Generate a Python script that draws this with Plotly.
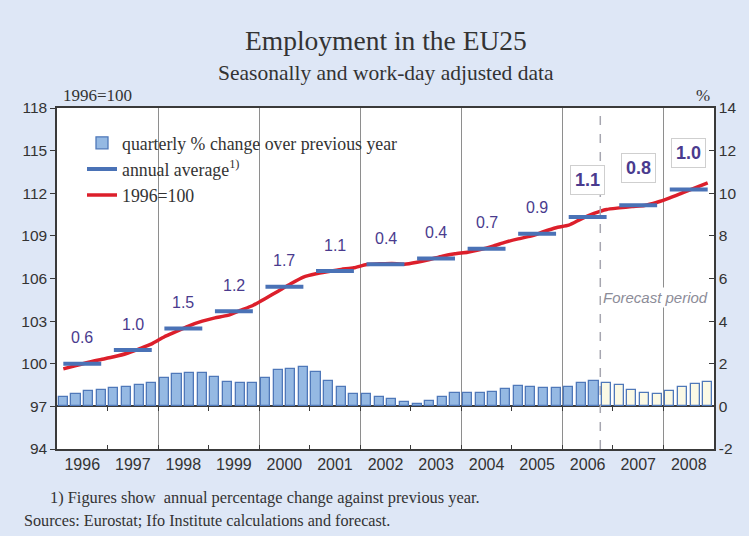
import plotly.graph_objects as go

# ---- data -------------------------------------------------------------
years = list(range(1996, 2009))
year_labels = [str(y) for y in years]

# quarterly % change over previous year (right axis)
quarterly_change = [
    0.46, 0.58, 0.70, 0.77,   # 1996
    0.87, 0.90, 0.98, 1.10,   # 1997
    1.33, 1.50, 1.58, 1.58,   # 1998
    1.39, 1.14, 1.11, 1.11,   # 1999
    1.33, 1.72, 1.75, 1.86,   # 2000
    1.61, 1.20, 0.92, 0.58,   # 2001
    0.60, 0.44, 0.35, 0.21,   # 2002
    0.11, 0.25, 0.43, 0.63,   # 2003
    0.63, 0.63, 0.68, 0.81,   # 2004
    0.96, 0.92, 0.88, 0.88,   # 2005
    0.92, 1.12, 1.18, 1.12,   # 2006
    1.00, 0.79, 0.63, 0.58,   # 2007
    0.73, 0.90, 1.06, 1.15,   # 2008
]

# employment index, 1996=100 (left axis)
employment_index = [
    99.64, 99.88, 100.11, 100.30,
    100.49, 100.72, 101.05, 101.40,
    101.90, 102.29, 102.69, 103.00,
    103.23, 103.40, 103.75, 104.10,
    104.59, 105.11, 105.63, 106.10,
    106.33, 106.49, 106.64, 106.75,
    106.99, 107.03, 107.06, 107.01,
    107.15, 107.34, 107.57, 107.74,
    107.85, 108.04, 108.28, 108.56,
    108.79, 108.98, 109.29, 109.57,
    109.75, 110.20, 110.58, 110.86,
    110.97, 111.07, 111.14, 111.37,
    111.68, 112.03, 112.38, 112.73,
]

# annual average of the index and its annual % change
annual_average = [100.0, 100.96, 102.48, 103.70, 105.42, 106.52, 107.0,
                  107.4, 108.1, 109.15, 110.32, 111.16, 112.26]
annual_change = ["0.6", "1.0", "1.5", "1.2", "1.7", "1.1", "0.4",
                 "0.4", "0.7", "0.9", "1.1", "0.8", "1.0"]

left_ticks = list(range(94, 119, 3))
right_ticks = list(range(-2, 15, 2))
right_tick_text = [str(v) for v in right_ticks]   # plain hyphen for "-2"

FORECAST_START = 2006.75   # forecast begins with 2006 Q4
FIRST_FORECAST_YEAR = 2006

# ---- derived positions --------------------------------------------------
quarter_x = [y + 0.125 + 0.25 * q for y in years for q in range(4)]
actual_idx = [i for i, x in enumerate(quarter_x) if x < FORECAST_START]
fcst_idx = [i for i, x in enumerate(quarter_x) if x > FORECAST_START]

avg_x, avg_y = [], []
for y, v in zip(years, annual_average):
    avg_x += [y + 0.125, y + 0.875, None]
    avg_y += [v, v, None]

boundaries = list(range(years[0] + 1, years[-1] + 1))
even_bounds = [b for b in boundaries if b % 2 == 0]
odd_bounds = [b for b in boundaries if b % 2 == 1]
centers = [y + 0.5 for y in years]

# ---- style ------------------------------------------------------------
BG = "#dee7f6"
AXIS = "#3a3a3a"
GRID = "#8e8e8e"
BAR_FILL = "#95b9e3"
BAR_EDGE = "#4f78b9"
FCST_FILL = "#fbf9e5"
AVG_BLUE = "#4a72b6"
RED = "#dc1f2b"
LABEL = "#4a3b8e"
TEXT = "#333333"
SERIF = "Liberation Serif"
SANS = "Liberation Sans"

XR = [years[0], years[-1] + 1]
Y_LEFT = [94, 118]
Y_RIGHT = [-2, 14]

fig = go.Figure()

fig.add_trace(go.Bar(
    x=[quarter_x[i] for i in actual_idx],
    y=[quarterly_change[i] for i in actual_idx],
    width=0.18, xaxis="x3", yaxis="y2",
    marker=dict(color=BAR_FILL, line=dict(color=BAR_EDGE, width=1.3)),
    name="quarterly % change over previous year",
    legendgroup="a",
))
fig.add_trace(go.Bar(
    x=[quarter_x[i] for i in fcst_idx],
    y=[quarterly_change[i] for i in fcst_idx],
    width=0.18, xaxis="x3", yaxis="y2",
    marker=dict(color=FCST_FILL, line=dict(color=BAR_EDGE, width=1.3)),
    showlegend=False, legendgroup="a",
))
fig.add_trace(go.Scatter(
    x=avg_x, y=avg_y, mode="lines", xaxis="x2", yaxis="y",
    line=dict(color=AVG_BLUE, width=4),
    name="annual average<sup>1)</sup>", legendgroup="b",
))
fig.add_trace(go.Scatter(
    x=quarter_x, y=employment_index, mode="lines", xaxis="x", yaxis="y",
    line=dict(color=RED, width=3.5, shape="spline", smoothing=0.5),
    name="1996=100", legendgroup="c",
))

# annual change labels above each annual average
annotations = []
for y, v, t in zip(years, annual_average, annual_change):
    if y < FIRST_FORECAST_YEAR:
        annotations.append(dict(
            x=y + 0.5, y=v, xref="x", yref="y", text=t, showarrow=False,
            yshift=26, font=dict(family=SANS, size=16, color=LABEL)))
    else:
        annotations.append(dict(
            x=y + 0.5, y=v, xref="x", yref="y", text="<b>%s</b>" % t,
            showarrow=False, yshift=37, bgcolor="white",
            bordercolor="#cfcfcf", borderwidth=1, borderpad=4,
            font=dict(family=SANS, size=18, color=LABEL)))

annotations.append(dict(
    x=FORECAST_START, y=5.1, xref="x", yref="y2", xanchor="left", xshift=1,
    text="<i>Forecast period</i>", showarrow=False, bgcolor="white",
    font=dict(family=SANS, size=15, color="#8c8c98")))

# titles and notes
def py(pixel_y):
    return (449 - pixel_y) / 341.0

def px(pixel_x):
    return (pixel_x - 57) / 657.0

annotations += [
    dict(text="Employment in the EU25", x=0.5, y=py(41), xref="paper",
         yref="paper", xanchor="center", yanchor="middle", showarrow=False,
         font=dict(family=SERIF, size=27.5, color=TEXT)),
    dict(text="Seasonally and work-day adjusted data", x=0.5, y=py(73),
         xref="paper", yref="paper", xanchor="center", yanchor="middle",
         showarrow=False, font=dict(family=SERIF, size=21.5, color=TEXT)),
    dict(text="1996=100", x=px(61), y=py(95), xref="paper", yref="paper",
         xanchor="left", yanchor="middle", showarrow=False,
         font=dict(family=SERIF, size=17, color=TEXT)),
    dict(text="%", x=px(712), y=py(95), xref="paper", yref="paper",
         xanchor="right", yanchor="middle", showarrow=False,
         font=dict(family=SERIF, size=17, color=TEXT)),
    dict(text="1) Figures show  annual percentage change against previous year.",
         x=px(48), y=py(497), xref="paper", yref="paper", xanchor="left",
         yanchor="middle", showarrow=False,
         font=dict(family=SERIF, size=16.4, color=TEXT)),
    dict(text="Sources: Eurostat; Ifo Institute calculations and forecast.",
         x=px(22), y=py(521), xref="paper", yref="paper", xanchor="left",
         yanchor="middle", showarrow=False,
         font=dict(family=SERIF, size=16.2, color=TEXT)),
]

fig.update_layout(
    width=749, height=536,
    margin=dict(l=57, r=35, t=108, b=87),
    paper_bgcolor=BG, plot_bgcolor="white",
    barmode="overlay", bargap=0,
    showlegend=True,
    legend=dict(x=px(82), y=0.951, xanchor="left", yanchor="top",
                bgcolor="rgba(0,0,0,0)", traceorder="grouped",
                tracegroupgap=0,
                font=dict(family=SERIF, size=17.8, color=TEXT)),
    annotations=annotations,
    shapes=[dict(type="line", xref="x", yref="paper",
                 x0=FORECAST_START, x1=FORECAST_START, y0=0, y1=1,
                 line=dict(color="#a6a6b0", width=1.5, dash="dash"))],
    # x: year tick labels and frame
    xaxis=dict(range=XR, tickmode="array", tickvals=centers,
               ticktext=year_labels, ticks="", showgrid=False,
               zeroline=False, showline=True, mirror=True,
               linecolor=AXIS, linewidth=1.5,
               tickfont=dict(family=SANS, size=16, color=TEXT)),
    # x2: year-boundary ticks and two-year gridlines
    xaxis2=dict(range=XR, overlaying="x", anchor="y", side="bottom",
                tickmode="array", tickvals=even_bounds, showticklabels=False,
                ticks="inside", ticklen=4, tickcolor=AXIS,
                showgrid=True, gridcolor=GRID, gridwidth=1,
                minor=dict(tickmode="array", tickvals=odd_bounds,
                           ticks="inside", ticklen=4, tickcolor=AXIS,
                           showgrid=False),
                zeroline=False, showline=False),
    # x3: ticks hanging from the zero line of the % axis
    xaxis3=dict(range=XR, overlaying="x", anchor="free",
                position=(0 - Y_RIGHT[0]) / (Y_RIGHT[1] - Y_RIGHT[0]),
                side="bottom", tickmode="array", tickvals=boundaries,
                showticklabels=False, ticks="outside", ticklen=4,
                tickcolor=AXIS, showgrid=False, zeroline=False,
                showline=False),
    yaxis=dict(range=Y_LEFT, tickmode="array", tickvals=left_ticks,
               ticks="outside", ticklen=5,
               tickcolor=AXIS, showgrid=False, zeroline=False,
               showline=True, linecolor=AXIS, linewidth=1.5,
               tickfont=dict(family=SANS, size=15.5, color=TEXT)),
    yaxis2=dict(range=Y_RIGHT, overlaying="y", side="right", anchor="x",
                tickmode="array", tickvals=right_ticks,
                ticktext=right_tick_text,
                ticks="inside", ticklen=5, tickcolor=AXIS, showgrid=False,
                zeroline=True, zerolinecolor=AXIS, zerolinewidth=1.5,
                showline=True, linecolor=AXIS, linewidth=1.5,
                tickfont=dict(family=SANS, size=15.5, color=TEXT)),
)

fig.write_html("out.html")
